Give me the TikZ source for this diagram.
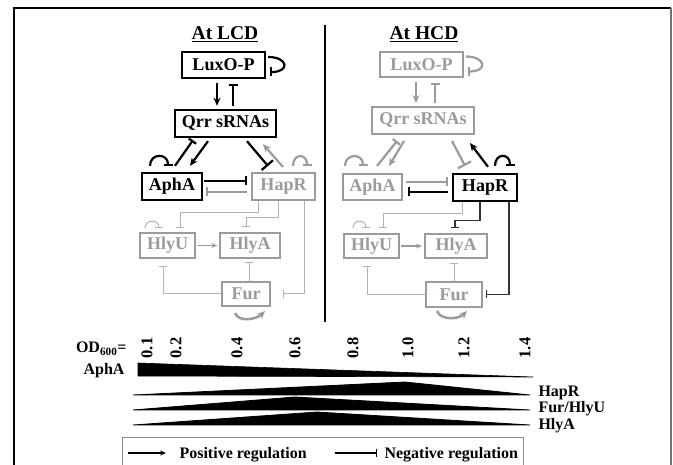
\documentclass[tikz,border=0pt]{standalone}
\usepackage{fontspec}
\setmainfont{Liberation Serif}
\usepackage{xcolor}
\usepackage{tikz}
\usetikzlibrary{arrows.meta, calc}
\definecolor{offgray}{RGB}{155,155,155}
\definecolor{thingray}{RGB}{178,178,178}

\tikzset{
  gene/.style={rectangle, inner sep=0pt, font=\bfseries\fontsize{18}{18}\selectfont},
  onbox/.style={gene, draw=black, text=black, line width=2.4pt},
  offbox/.style={gene, draw=offgray, text=offgray, line width=2pt},
  lab/.style={font=\bfseries\fontsize{16}{16}\selectfont},
  act/.style={-{Stealth[length=8pt,width=7pt]}},
  sact/.style={-{Stealth[length=6pt,width=5pt]}},
  inh/.style={-{Bar[width=9pt]}},
  inhw/.style={-{Bar[width=15pt]}},
  sinh/.style={-{Bar[width=8pt]}},
  onlink/.style={draw=black, line width=2.2pt},
  offlink/.style={draw=offgray, line width=2.2pt},
  thinlink/.style={draw=thingray, line width=1pt},
  darklink/.style={draw=black!80, line width=1.2pt}
}

\begin{document}
\begin{tikzpicture}[x=1pt, y=-1pt]
\useasboundingbox (0,0) rectangle (673,465);
\clip (0,0) rectangle (673,465);
\fill[white] (0,0) rectangle (673,465);

% Frame
\draw[line width=1.5pt] (14,470) -- (14,8) -- (671,8);
\draw[line width=1.5pt, black!55] (671,8) -- (671,470);

% Titles and divider
\node[anchor=base, font=\bfseries\fontsize{19.5}{20}\selectfont] (ttlL) at (225,40) {\underline{At LCD}};
\node[anchor=base, font=\bfseries\fontsize{19.5}{20}\selectfont] (ttlR) at (424,40) {\underline{At HCD}};
\draw[line width=2pt] (325,25) -- (325,322);

% ---------- At LCD ----------
\node[onbox, minimum width=83pt, minimum height=26pt] (luxL) at (223.5,65) {LuxO-P};
\node[onbox, minimum width=101pt, minimum height=27pt] (qrrL) at (225.5,123.5) {Qrr sRNAs};
\node[onbox, minimum width=60pt, minimum height=27pt] (aphaL) at (172,186.5) {AphA};
\node[offbox, minimum width=63pt, minimum height=27pt] (haprL) at (283.5,186.5) {HapR};
\node[offbox, minimum width=55pt, minimum height=25pt] (hlyuL) at (167.5,245.5) {HlyU};
\node[offbox, line width=1.3pt, minimum width=60pt, minimum height=25pt] (hlyaL) at (250,245.5) {HlyA};
\node[offbox, minimum width=48pt, minimum height=24pt] (furL) at (246,294) {Fur};

\draw[onlink, act] ($(luxL.south)+(-6.5,4)$) -- ($(qrrL.north)+(-8.5,-3)$);
\draw[onlink, inh] ($(qrrL.north)+(7.5,-3)$) -- ($(luxL.south)+(9.5,5)$);
\draw[onlink, inh] ($(luxL.east)+(2,-8)$) .. controls +(20,0) and +(20,0) .. ($(luxL.east)+(4,7)$);
\draw[onlink, inh] ($(aphaL.north)+(3,-6)$) -- ($(qrrL.south)+(-32.5,2)$);
\draw[onlink, act] ($(qrrL.south)+(-17.5,3)$) -- ($(aphaL.north)+(18,-6)$);
\draw[onlink, inhw] ($(qrrL.south)+(21.5,3)$) -- ($(haprL.north)+(-15.5,-6)$);
\draw[offlink, act] ($(haprL.north)+(-0.5,-5)$) -- ($(qrrL.south)+(37.5,6)$);
\draw[offlink, inh] ($(haprL.north)+(9.5,-6)$) .. controls +(0,-13) and +(0,-13) .. ($(haprL.north)+(23.5,-6)$);
\draw[onlink, inh] ($(aphaL.north)+(-22,-6)$) .. controls +(0,-13) and +(0,-13) .. ($(aphaL.north)+(-4,-6)$);
\draw[onlink, inh] ($(aphaL.east)+(1,-5.5)$) -- ($(haprL.west)+(-4,-5.5)$);
\draw[offlink, inh] ($(haprL.west)+(-4,5.5)$) -- ($(aphaL.east)+(3,5.5)$);

\draw[thinlink, sinh] ($(haprL.south)+(-25.5,0)$) -- ++(0,12) -| ($(hlyuL.north)+(12.5,-4)$);
\draw[thinlink, sinh] ($(haprL.south)+(-5.5,0)$) -- ++(0,17) -| ($(hlyaL.north)+(-4,-5)$);
\draw[thinlink, sinh] ($(haprL.south)+(20.5,0)$) |- ($(furL.east)+(12,0)$);
\draw[offlink, line width=1.2pt, sact] ($(hlyuL.east)+(1,0)$) -- ($(hlyaL.west)+(-2,0)$);
\draw[thinlink, sinh] ($(hlyuL.north)+(-22.5,-4)$) .. controls +(0,-9) and +(0,-9) .. ($(hlyuL.north)+(-8.5,-4)$);
\draw[thinlink, sinh] (furL.west) -| ($(hlyuL.south)+(-4.5,7)$);
\draw[thinlink, sinh] ($(furL.north)+(3,0)$) -- ($(hlyaL.south)+(-1,3)$);
\draw[offlink, line width=2.5pt, act] ($(furL.south)+(-11,6)$) .. controls +(4,10) and +(-8,8) .. ($(furL.south)+(19,4)$);

% ---------- At HCD ----------
\node[offbox, minimum width=83pt, minimum height=25pt] (luxR) at (421.5,64.5) {LuxO-P};
\node[offbox, minimum width=102pt, minimum height=27pt] (qrrR) at (423,120.5) {Qrr sRNAs};
\node[offbox, minimum width=59pt, minimum height=26pt] (aphaR) at (372.5,187) {AphA};
\node[onbox, minimum width=64pt, minimum height=27pt] (haprR) at (485,187.5) {HapR};
\node[offbox, minimum width=55pt, minimum height=24pt] (hlyuR) at (371.5,246) {HlyU};
\node[offbox, minimum width=62pt, minimum height=24pt] (hlyaR) at (456,246) {HlyA};
\node[offbox, minimum width=56pt, minimum height=25pt] (furR) at (454,294.5) {Fur};

\draw[offlink, act] ($(luxR.south)+(-5.5,4)$) -- ($(qrrR.north)+(-7,-3)$);
\draw[offlink, inh] ($(qrrR.north)+(12,-3)$) -- ($(luxR.south)+(13.5,5)$);
\draw[offlink, inh] ($(luxR.east)+(2,-8)$) .. controls +(20,0) and +(20,0) .. ($(luxR.east)+(4,7)$);
\draw[offlink, inh] ($(aphaR.north)+(4.5,-7)$) -- ($(qrrR.south)+(-26,6)$);
\draw[offlink, act] ($(qrrR.south)+(-19,6)$) -- ($(aphaR.north)+(16.5,-7)$);
\draw[offlink, inhw] ($(qrrR.south)+(29,6)$) -- ($(haprR.north)+(-20,-7)$);
\draw[onlink, act] ($(haprR.north)+(3,-6)$) -- ($(qrrR.south)+(47,8)$);
\draw[onlink, inh] ($(haprR.north)+(10,-7)$) .. controls +(0,-13) and +(0,-13) .. ($(haprR.north)+(25,-7)$);
\draw[offlink, inh] ($(aphaR.north)+(-27.5,-7)$) .. controls +(0,-13) and +(0,-13) .. ($(aphaR.north)+(-9.5,-7)$);
\draw[offlink, inh] ($(aphaR.east)+(3,-5)$) -- ($(haprR.west)+(-4,-5.5)$);
\draw[onlink, inh] ($(haprR.west)+(-4,4.5)$) -- ($(aphaR.east)+(5,5)$);

\draw[thinlink, sinh] ($(haprR.south)+(-23,0)$) -- ++(0,11) -| ($(hlyuR.north)+(11.5,-5)$);
\draw[darklink, sinh] ($(haprR.south)+(-5,0)$) -- ++(0,18) -| ($(hlyaR.north)+(-1,-5)$);
\draw[darklink, sinh] ($(haprR.south)+(24,0)$) |- ($(furR.east)+(3,0)$);
\draw[offlink, line width=1.2pt, sact] ($(hlyuR.east)+(1,0)$) -- ($(hlyaR.west)+(-2,0)$);
\draw[thinlink, sinh] ($(hlyuR.north)+(-18.5,-5)$) .. controls +(0,-9) and +(0,-9) .. ($(hlyuR.north)+(-5.5,-5)$);
\draw[thinlink, sinh] (furR.west) -| ($(hlyuR.south)+(-4.5,7)$);
\draw[thinlink, sinh] ($(furR.north)+(0,0)$) -- ($(hlyaR.south)+(-2,4)$);
\draw[offlink, line width=2.5pt, act] ($(furR.south)+(-17,3)$) .. controls +(4,10) and +(-8,8) .. ($(furR.south)+(13,3)$);

% ---------- OD600 profile ----------
\node[anchor=east, lab] (odT) at (130,349) {OD\textsubscript{600}=};
\foreach \v/\xp [count=\i] in {0.1/147, 0.2/176, 0.4/237, 0.6/295, 0.8/353, 1.0/408, 1.2/464, 1.4/525}
  \node[rotate=90, font=\bfseries\fontsize{16.5}{16.5}\selectfont] (tick\i) at (\xp,348) {\v};

\node[anchor=east, lab] (aphaT) at (128,371) {AphA};
\filldraw[line width=0.6pt] (138,363) -- (138,376) -- (533,377) -- cycle;
\filldraw[line width=0.8pt] (133,395) -- (405,382) -- (530,395) -- cycle;
\node[anchor=west, lab] (haprT) at (535,393) {HapR};
\filldraw[line width=0.8pt] (133,410) -- (295,397) -- (530,410) -- cycle;
\node[anchor=west, lab] (furT) at (535,409) {Fur/HlyU};
\filldraw[line width=0.8pt] (133,425) -- (317,412) -- (530,425) -- cycle;
\node[anchor=west, lab] (hlyaT) at (535,426) {HlyA};

% Legend
\draw[draw=black!45, line width=1pt] (122,438) rectangle (523,480);
\node[anchor=west, lab] (posT) at (176,455) {Positive regulation};
\draw[line width=1.5pt, sact] ($(posT.west)+(-48,-2)$) -- ($(posT.west)+(-10,-2)$);
\node[anchor=west, lab] (negT) at (381,455) {Negative regulation};
\draw[line width=1.5pt, sinh] ($(negT.west)+(-46,-2)$) -- ($(negT.west)+(-4,-2)$);

\end{tikzpicture}
\end{document}
